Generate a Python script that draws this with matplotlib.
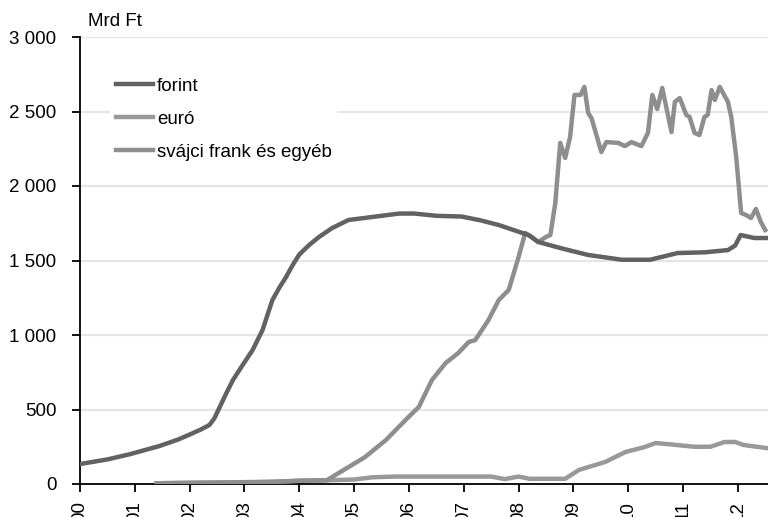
import matplotlib
matplotlib.use("Agg")
import matplotlib.pyplot as plt
from matplotlib.ticker import FuncFormatter, FixedLocator

plt.rcParams['font.family'] = ['Liberation Sans', 'DejaVu Sans']

# Household loan stock by currency, billion HUF
forint_t = [2000.0, 2000.5, 2000.91, 2001.45, 2001.8, 2002.05, 2002.2, 2002.36, 2002.45,
            2002.55, 2002.67, 2002.79, 2002.97, 2003.15, 2003.33, 2003.51, 2003.64, 2003.76,
            2003.88, 2004.0, 2004.18, 2004.36, 2004.6, 2004.9, 2005.18, 2005.5,
            2005.82, 2006.1, 2006.5, 2006.96, 2007.3, 2007.64, 2008.18, 2008.36, 2008.8,
            2009.27, 2009.6, 2009.88, 2010.4, 2010.9, 2011.4, 2011.82, 2011.95, 2012.05,
            2012.3, 2012.55]
forint_v = [134, 165, 200, 255, 300, 340, 365, 396, 440,
            517, 610, 698, 800, 900, 1034, 1235, 1320, 1390,
            1470, 1540, 1604, 1658, 1718, 1772, 1785, 1800,
            1815, 1815, 1800, 1795, 1770, 1738, 1671, 1624, 1580,
            1537, 1520, 1505, 1505, 1550, 1555, 1570, 1600, 1671,
            1651, 1651]

euro_t = [2001.4, 2002.0, 2003.0, 2003.6, 2004.0, 2004.5, 2005.0, 2005.33, 2005.76,
          2006.5, 2007.5, 2007.75, 2008.0, 2008.2, 2008.85, 2009.1, 2009.58, 2009.95,
          2010.3, 2010.5, 2010.8, 2011.2, 2011.5, 2011.76, 2011.95, 2012.1, 2012.55]
euro_v = [5, 8, 10, 15, 22, 25, 30, 45, 50,
          50, 50, 33, 50, 35, 35, 94, 148, 215,
          248, 275, 265, 250, 250, 282, 282, 262, 240]

chf_t = [2001.4, 2002.5, 2003.5, 2004.0, 2004.5, 2004.9, 2005.2, 2005.58, 2005.94,
         2006.18, 2006.42, 2006.67, 2006.9, 2007.09, 2007.21, 2007.45, 2007.64, 2007.82,
         2008.0, 2008.12, 2008.24, 2008.36, 2008.5, 2008.58, 2008.67, 2008.76, 2008.85,
         2008.94, 2009.02, 2009.13, 2009.2, 2009.27, 2009.33, 2009.51, 2009.6, 2009.82,
         2009.94, 2010.06, 2010.24, 2010.36, 2010.44, 2010.53, 2010.62, 2010.79, 2010.85,
         2010.94, 2011.06, 2011.12, 2011.21, 2011.3, 2011.39, 2011.45, 2011.52, 2011.58,
         2011.67, 2011.82, 2011.88, 2011.97, 2012.06, 2012.15, 2012.24, 2012.33, 2012.42,
         2012.5]
chf_v = [5, 10, 15, 22, 25, 114, 181, 295, 430,
         517, 698, 812, 879, 953, 966, 1100, 1235, 1302,
         1523, 1685, 1658, 1624, 1658, 1671, 1886, 2289, 2188,
         2329, 2611, 2611, 2665, 2490, 2456, 2228, 2295, 2289,
         2268, 2295, 2268, 2356, 2611, 2517, 2658, 2362, 2564,
         2590, 2477, 2463, 2356, 2342, 2463, 2477, 2644, 2577,
         2665, 2564, 2463, 2195, 1819, 1805, 1785, 1846, 1758,
         1705]

year_ticks = list(range(2000, 2013))
year_labels = [f"{y % 100:02d}" for y in year_ticks]
y_ticks = [0, 500, 1000, 1500, 2000, 2500, 3000]

fig = plt.figure(figsize=(7.68, 5.17), dpi=100)
ax = fig.add_axes([80 / 768, 1 - 484 / 517, 1 - 80 / 768, 447 / 517])

for yv in y_ticks[1:]:
    ax.axhline(yv, color='#e6e6e6', lw=1.5, zorder=0)

lw = 3.2
ax.plot(forint_t, forint_v, color='#626262', lw=lw, label='forint', zorder=4,
        solid_joinstyle='round')
ax.plot(euro_t, euro_v, color='#999999', lw=lw, label='euró', zorder=3,
        solid_joinstyle='round')
ax.plot(chf_t, chf_v, color='#8e8e8e', lw=lw, label='svájci frank és egyéb', zorder=3,
        solid_joinstyle='round')

ax.set_xlim(2000, 2012.55)
ax.set_ylim(0, 3000)

ax.xaxis.set_major_locator(FixedLocator(year_ticks))
ax.set_xticklabels(year_labels, rotation=90, va='top', ha='center')
ax.yaxis.set_major_locator(FixedLocator(y_ticks))
ax.yaxis.set_major_formatter(FuncFormatter(lambda v, p: f"{int(v):,}".replace(",", " ")))

for s in ('top', 'right'):
    ax.spines[s].set_visible(False)
for s in ('left', 'bottom'):
    ax.spines[s].set_linewidth(1.3)
    ax.spines[s].set_color('black')

fs = 13.5
ax.tick_params(axis='y', direction='out', length=6, width=1.3, pad=11, labelsize=fs)
ax.tick_params(axis='x', direction='out', length=6, width=1.3, pad=6, labelsize=fs)

fig.text(88 / 768, 1 - 22 / 517, 'Mrd Ft', fontsize=fs, va='center', ha='left')

leg = ax.legend(loc='upper left', bbox_to_anchor=(110 / 768, 1 - 72 / 517),
                bbox_transform=fig.transFigure, frameon=True, fontsize=fs,
                handlelength=2.0, handletextpad=0.2, labelspacing=0.85,
                borderaxespad=0, borderpad=0.3, fancybox=False)
leg.get_frame().set_edgecolor('none')
leg.get_frame().set_facecolor('white')
leg.get_frame().set_alpha(1)

fig.savefig('out.png', dpi=100)
